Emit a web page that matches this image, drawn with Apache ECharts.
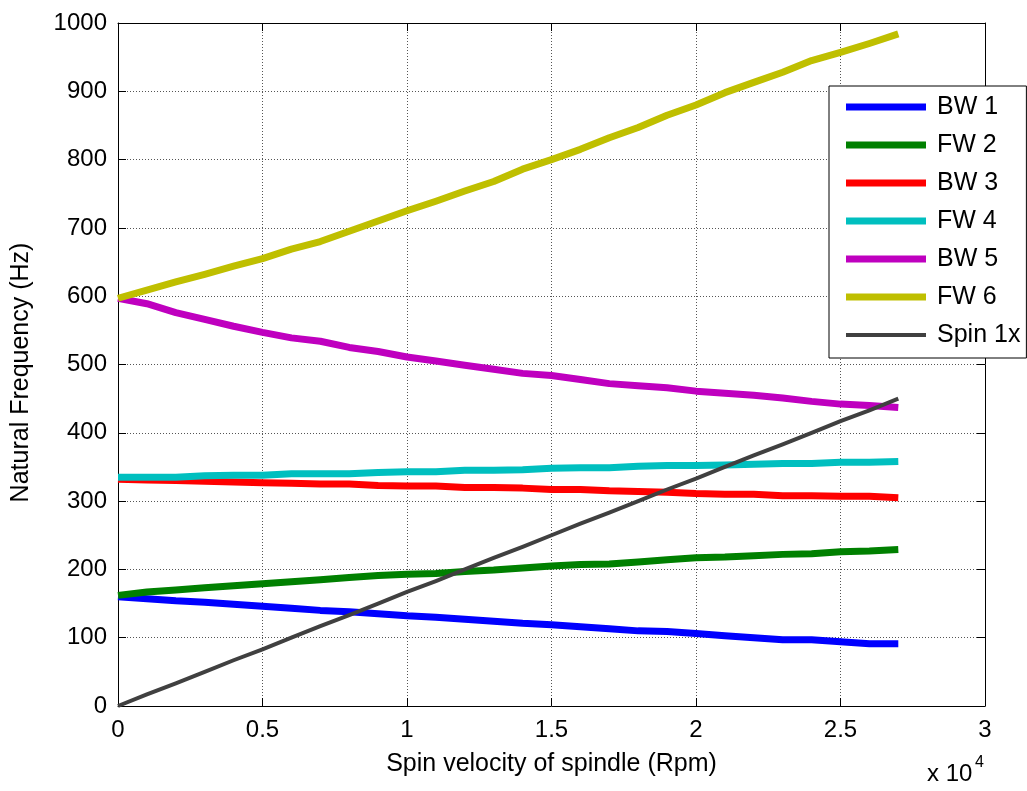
<!DOCTYPE html>
<html>
<head>
<meta charset="utf-8">
<script src="https://cdn.jsdelivr.net/npm/echarts@6/dist/echarts.min.js"></script>
<style>
  html, body { margin: 0; padding: 0; background: #fff; }
  #chart { width: 1027px; height: 791px; }
</style>
</head>
<body>
<div id="chart"></div>
<script>
// Spindle speed samples (rpm)
const spinRpm = [0, 1000, 2000, 3000, 4000, 5000, 6000, 7000, 8000, 9000, 10000,
  11000, 12000, 13000, 14000, 15000, 16000, 17000, 18000, 19000, 20000,
  21000, 22000, 23000, 24000, 25000, 26000, 27000];

// Natural frequencies of each whirl mode (Hz)
const bw1 = [160, 157, 154, 152, 149, 146, 143, 140, 138, 135, 132, 130, 127, 124,
  121, 119, 116, 113, 110, 109, 106, 103, 100, 97, 97, 94, 91, 91];
const fw2 = [162, 167, 170, 173, 176, 179, 182, 185, 188, 191, 193, 194, 197, 199,
  202, 205, 207, 208, 211, 214, 217, 218, 220, 222, 223, 226, 227, 229];
const bw3 = [332, 331, 330, 329, 328, 327, 326, 325, 325, 323, 322, 322, 320, 320,
  319, 317, 317, 315, 314, 313, 311, 310, 310, 308, 308, 307, 307, 305];
const fw4 = [335, 335, 335, 337, 338, 338, 340, 340, 340, 342, 343, 343, 345, 345,
  346, 348, 349, 349, 351, 352, 352, 353, 354, 355, 355, 357, 357, 358];
const bw5 = [597, 589, 576, 566, 556, 547, 539, 534, 525, 519, 511, 505, 499, 493,
  487, 484, 478, 472, 469, 466, 461, 458, 455, 451, 446, 442, 440, 437];
const fw6 = [597, 609, 621, 632, 644, 655, 669, 680, 695, 710, 725, 739, 754, 768,
  786, 800, 815, 832, 847, 865, 880, 898, 913, 928, 945, 957, 970, 984];
// Synchronous excitation line (1x spin frequency, Hz)
const spin1x = [0, 17, 33, 50, 67, 83, 100, 117, 133, 150, 167, 183, 200, 217,
  233, 250, 267, 283, 300, 317, 333, 350, 367, 383, 400, 417, 433, 450];

const seriesNames = ['BW 1', 'FW 2', 'BW 3', 'FW 4', 'BW 5', 'FW 6', 'Spin 1x'];
const seriesValues = [bw1, fw2, bw3, fw4, bw5, fw6, spin1x];
const seriesColors = ['#0000ff', '#008000', '#ff0000', '#00bfbf', '#bf00bf', '#bfbf00', '#404040'];
const seriesWidths = [7, 7, 7, 7, 7, 7, 4];

// Tick values for the x axis, shown in units of 10^4 rpm
const xTicks = [0, 5000, 10000, 15000, 20000, 25000, 30000];

const FONT = 'Liberation Sans, Arial, sans-serif';

const chart = echarts.init(document.getElementById('chart'), null, { renderer: 'canvas' });

const gridLine = { show: true, lineStyle: { color: '#555', type: [1, 2], width: 1 } };

const series = seriesNames.map((name, i) => ({
  name: name,
  type: 'line',
  xAxisIndex: 0,
  yAxisIndex: 0,
  symbol: 'none',
  smooth: false,
  animation: false,
  data: spinRpm.map((r, k) => [r, seriesValues[i][k]]),
  lineStyle: { color: seriesColors[i], width: seriesWidths[i], cap: 'butt', join: 'round' },
  itemStyle: { color: seriesColors[i] }
}));

const legendData = seriesNames.map((name, i) => ({
  name: name,
  icon: 'path://M0,0H80V' + seriesWidths[i] + 'H0Z'
}));

chart.setOption({
  animation: false,
  backgroundColor: '#ffffff',
  grid: { left: 118, right: 42, top: 23, bottom: 85, containLabel: false },
  xAxis: [{
    type: 'value',
    position: 'bottom',
    min: xTicks[0],
    max: xTicks[xTicks.length - 1],
    interval: xTicks[1] - xTicks[0],
    name: 'Spin velocity of spindle (Rpm)',
    nameLocation: 'middle',
    nameGap: 46,
    nameTextStyle: { fontFamily: FONT, fontSize: 25, color: '#000' },
    axisLine: { show: true, onZero: false, lineStyle: { color: '#000', width: 1 } },
    axisTick: { show: true, inside: true, length: 8, lineStyle: { color: '#000' } },
    axisLabel: { fontFamily: FONT, fontSize: 24, color: '#000', margin: 12,
      formatter: v => String(v / 10000) },
    splitLine: gridLine
  }, {
    type: 'value',
    position: 'top',
    min: xTicks[0],
    max: xTicks[xTicks.length - 1],
    interval: xTicks[1] - xTicks[0],
    axisLine: { show: true, onZero: false, lineStyle: { color: '#000', width: 1 } },
    axisTick: { show: true, inside: true, length: 8, lineStyle: { color: '#000' } },
    axisLabel: { show: false },
    splitLine: { show: false }
  }],
  yAxis: [{
    type: 'value',
    position: 'left',
    min: 0,
    max: 1000,
    interval: 100,
    name: 'Natural Frequency (Hz)',
    nameLocation: 'middle',
    nameGap: 84,
    nameTextStyle: { fontFamily: FONT, fontSize: 25, color: '#000', padding: [0, 16, 0, 0] },
    axisLine: { show: true, onZero: false, lineStyle: { color: '#000', width: 1 } },
    axisTick: { show: true, inside: true, length: 8, lineStyle: { color: '#000' } },
    axisLabel: { fontFamily: FONT, fontSize: 24, color: '#000', margin: 11,
      formatter: v => String(v) },
    splitLine: gridLine
  }, {
    type: 'value',
    position: 'right',
    min: 0,
    max: 1000,
    interval: 100,
    axisLine: { show: true, onZero: false, lineStyle: { color: '#000', width: 1 } },
    axisTick: { show: true, inside: true, length: 8, lineStyle: { color: '#000' } },
    axisLabel: { show: false },
    splitLine: { show: false }
  }],
  legend: {
    orient: 'vertical',
    left: 829,
    top: 86,
    data: legendData,
    itemWidth: 80,
    itemHeight: 26,
    itemGap: 12,
    padding: [8, 6, 10, 17],
    backgroundColor: '#ffffff',
    borderColor: '#000000',
    borderWidth: 1,
    borderRadius: 0,
    selectedMode: false,
    textStyle: { fontFamily: FONT, fontSize: 25, color: '#000', lineHeight: 26, padding: [0, 0, 0, 6] }
  },
  graphic: [{
    type: 'text',
    left: 927,
    top: 762,
    style: { text: 'x 10', font: '24px ' + FONT, fill: '#000' }
  }, {
    type: 'text',
    left: 975,
    top: 755,
    style: { text: '4', font: '16px ' + FONT, fill: '#000' }
  }],
  series: series
});
</script>
</body>
</html>
